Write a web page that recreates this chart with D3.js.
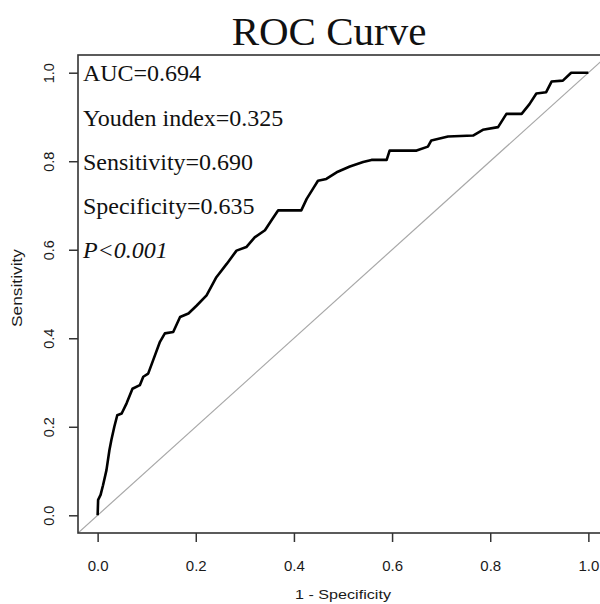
<!DOCTYPE html>
<html>
<head>
<meta charset="utf-8">
<script src="https://cdn.jsdelivr.net/npm/d3@7"></script>
<style>
  body { margin: 0; background: #fff; }
</style>
</head>
<body>
<div id="chart"></div>
<script>
// ROC points (1 - specificity, sensitivity)
const fpr = [0, 0.001, 0.006, 0.011, 0.018, 0.024, 0.028, 0.034, 0.040, 0.049,
  0.059, 0.071, 0.086, 0.093, 0.103, 0.113, 0.127, 0.137, 0.154, 0.168,
  0.185, 0.202, 0.222, 0.242, 0.263, 0.283, 0.303, 0.320, 0.341, 0.354,
  0.368, 0.415, 0.426, 0.439, 0.449, 0.466, 0.487, 0.514, 0.541, 0.558,
  0.589, 0.595, 0.650, 0.673, 0.680, 0.714, 0.765, 0.785, 0.816, 0.833,
  0.864, 0.880, 0.894, 0.914, 0.925, 0.948, 0.965, 1.000];
const tpr = [0, 0.035, 0.046, 0.068, 0.102, 0.147, 0.170, 0.200, 0.226, 0.230,
  0.253, 0.286, 0.294, 0.313, 0.320, 0.350, 0.392, 0.411, 0.414, 0.448,
  0.456, 0.474, 0.497, 0.538, 0.568, 0.598, 0.606, 0.628, 0.644, 0.666,
  0.689, 0.689, 0.715, 0.738, 0.756, 0.760, 0.775, 0.788, 0.798, 0.803,
  0.803, 0.824, 0.824, 0.833, 0.847, 0.856, 0.858, 0.871, 0.877, 0.907,
  0.907, 0.929, 0.953, 0.956, 0.980, 0.982, 1.000, 1.000];
const ticks = [0, 0.2, 0.4, 0.6, 0.8, 1.0];
const notes = ["AUC=0.694", "Youden index=0.325", "Sensitivity=0.690", "Specificity=0.635", "P<0.001"];
const noteY = [1.0, 0.9, 0.8, 0.7, 0.6];

const W = 600, H = 604;
const box = { left: 78, top: 55, right: 608, bottom: 533 };

const svg = d3.select("#chart").append("svg")
  .attr("width", W).attr("height", H);

const x = d3.scaleLinear().domain([-0.04, 1.04]).range([box.left, box.right]);
const y = d3.scaleLinear().domain([-0.04, 1.04]).range([box.bottom, box.top]);

svg.append("clipPath").attr("id", "clip")
  .append("rect")
    .attr("x", box.left).attr("y", box.top)
    .attr("width", box.right - box.left).attr("height", box.bottom - box.top);

// diagonal reference line
svg.append("line")
  .attr("clip-path", "url(#clip)")
  .attr("x1", x(-0.04)).attr("y1", y(-0.04))
  .attr("x2", x(1.04)).attr("y2", y(1.04))
  .attr("stroke", "#a8a8a8").attr("stroke-width", 1.2);

// roc curve
const pts = fpr.map((f, i) => [f, tpr[i]]);
svg.append("path")
  .datum(pts)
  .attr("fill", "none")
  .attr("stroke", "#000")
  .attr("stroke-width", 2.6)
  .attr("stroke-linejoin", "round")
  .attr("d", d3.line().x(d => x(d[0])).y(d => y(d[1])));

// box
svg.append("rect")
  .attr("x", box.left).attr("y", box.top)
  .attr("width", box.right - box.left).attr("height", box.bottom - box.top)
  .attr("fill", "none").attr("stroke", "#333").attr("stroke-width", 1.6);

// axes
const fmt = d3.format(".1f");
const xAxis = svg.append("g")
  .attr("transform", `translate(0,${box.bottom})`)
  .call(d3.axisBottom(x).tickValues(ticks).tickFormat(fmt).tickSize(9).tickPadding(18));
xAxis.select(".domain").remove();
xAxis.selectAll("line").attr("stroke", "#333").attr("stroke-width", 1.5);
xAxis.selectAll("text")
  .attr("font-family", "Liberation Sans, Arial, sans-serif")
  .attr("font-size", 15).attr("fill", "#1a1a1a");

const yAxis = svg.append("g")
  .attr("transform", `translate(${box.left},0)`)
  .call(d3.axisLeft(y).tickValues(ticks).tickFormat(fmt).tickSize(9));
yAxis.select(".domain").remove();
yAxis.selectAll("line").attr("stroke", "#333").attr("stroke-width", 1.5);
yAxis.selectAll("text")
  .attr("transform", "rotate(-90)")
  .attr("x", 0).attr("y", -24).attr("dy", 0)
  .attr("text-anchor", "middle")
  .attr("font-family", "Liberation Sans, Arial, sans-serif")
  .attr("font-size", 14.5).attr("fill", "#1a1a1a");

// axis titles
svg.append("text")
  .attr("x", (box.left + box.right) / 2).attr("y", 599)
  .attr("text-anchor", "middle")
  .attr("font-family", "Liberation Sans, Arial, sans-serif")
  .attr("font-size", 13.5).attr("fill", "#1a1a1a")
  .attr("textLength", 96).attr("lengthAdjust", "spacingAndGlyphs")
  .text("1 - Specificity");

svg.append("text")
  .attr("transform", `translate(22,${(box.top + box.bottom) / 2 - 6}) rotate(-90)`)
  .attr("text-anchor", "middle")
  .attr("font-family", "Liberation Sans, Arial, sans-serif")
  .attr("font-size", 14).attr("fill", "#1a1a1a")
  .attr("textLength", 78).attr("lengthAdjust", "spacingAndGlyphs")
  .text("Sensitivity");

// title
svg.append("text")
  .attr("x", 329).attr("y", 45)
  .attr("text-anchor", "middle")
  .attr("font-family", "Liberation Serif, Times New Roman, serif")
  .attr("font-size", 41).attr("fill", "#111")
  .text("ROC Curve");

// annotations
svg.selectAll("text.note")
  .data(notes)
  .enter().append("text")
    .attr("class", "note")
    .attr("x", x(-0.03))
    .attr("y", (d, i) => y(noteY[i]))
    .attr("dy", "0.36em")
    .attr("font-family", "Liberation Serif, Times New Roman, serif")
    .attr("font-size", 24)
    .attr("font-style", (d, i) => i === notes.length - 1 ? "italic" : "normal")
    .attr("fill", "#111")
    .text(d => d);
</script>
</body>
</html>
